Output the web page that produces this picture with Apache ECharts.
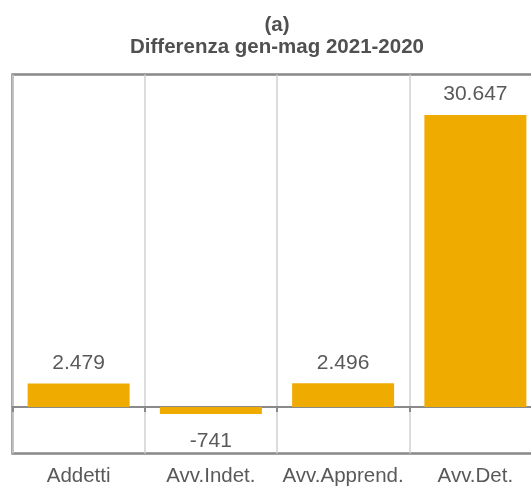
<!DOCTYPE html>
<html>
<head>
<meta charset="utf-8">
<script src="https://cdn.jsdelivr.net/npm/echarts@6/dist/echarts.min.js"></script>
<style>
  html, body { margin: 0; padding: 0; background: #fff; }
  #main { width: 531px; height: 489px; }
</style>
</head>
<body>
<div id="main"></div>
<script>
// dati: differenza gen-mag 2021-2020
var categorie = ['Addetti', 'Avv.Indet.', 'Avv.Apprend.', 'Avv.Det.'];
var valori = [2479, -741, 2496, 30647];
var etichette = ['2.479', '-741', '2.496', '30.647'];

var grigio = '#595959';
var arancio = '#f0ab00';

// costruisce i dati delle barre con l'etichetta sopra o sotto
function Genera_dati(vals, labs) {
    let dati = [];
    for (let i = 0; i < vals.length; i++) {
        let neg = vals[i] < 0;
        dati.push({
            value: vals[i],
            label: {
                show: true,
                position: neg ? 'bottom' : 'top',
                distance: neg ? 17 : 10,
                formatter: labs[i]
            }
        });
    }
    return dati;
}

let chart = echarts.init(document.getElementById('main'), null, { renderer: 'canvas' });
let option = {
    animation: false,
    backgroundColor: '#fff',
    title: {
        text: '(a)\nDifferenza gen-mag 2021-2020',
        left: 272,
        top: 9,
        textAlign: 'center',
        textStyle: {
            fontFamily: 'Liberation Sans',
            fontSize: 20.5,
            fontWeight: 'bold',
            color: '#505050',
            lineHeight: 22
        }
    },
    grid: {
        show: true,
        left: 12.5,
        top: 74.5,
        right: -10.5,
        bottom: 35.5,
        borderColor: '#888',
        borderWidth: 2.5,
        containLabel: false,
        outerBoundsMode: 'none'
    },
    xAxis: [
        {
            type: 'category',
            data: categorie,
            axisLine: { show: true, onZero: true, lineStyle: { color: '#8a8a8a', width: 2 } },
            axisTick: { show: true, length: 5, lineStyle: { color: '#8a8a8a', width: 2 } },
            axisLabel: { show: false },
            splitLine: { show: true, lineStyle: { color: '#d0d0d0', width: 1.5 } }
        },
        {
            type: 'category',
            data: categorie,
            position: 'bottom',
            axisLine: { show: false, onZero: false },
            axisTick: { show: false },
            splitLine: { show: false },
            axisLabel: {
                show: true,
                interval: 0,
                margin: 12,
                fontFamily: 'Liberation Sans',
                fontSize: 20.5,
                color: grigio
            }
        }
    ],
    yAxis: {
        type: 'value',
        min: -4880,
        max: 34900,
        show: false,
        splitLine: { show: false }
    },
    series: [
        {
            type: 'bar',
            xAxisIndex: 0,
            barWidth: 102,
            itemStyle: { color: arancio },
            label: {
                fontFamily: 'Liberation Sans',
                fontSize: 21,
                color: grigio
            },
            data: Genera_dati(valori, etichette)
        }
    ]
};
chart.setOption(option);
</script>
</body>
</html>
